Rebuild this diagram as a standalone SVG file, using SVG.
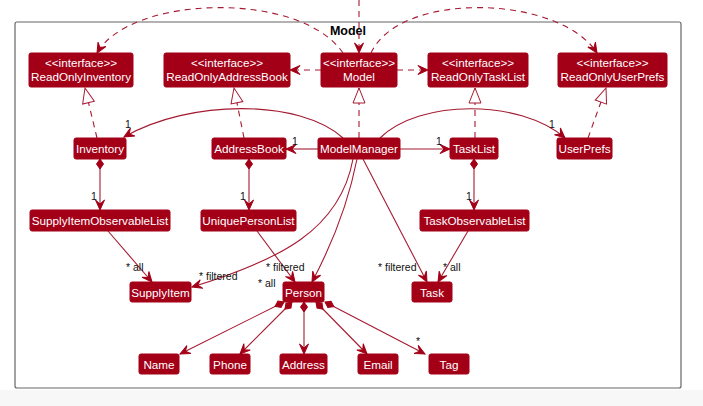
<svg xmlns="http://www.w3.org/2000/svg" width="703" height="406" viewBox="0 0 703 406">
<style>
.n rect{fill:#A30018;stroke:#A30018;stroke-width:1}
.n text{fill:#fff;font-family:"Liberation Sans",Arial,sans-serif;font-size:11.7px;text-anchor:middle}
.e path{fill:none;stroke:#A51A30;stroke-width:1.1}
.d{stroke-dasharray:6,5}
.a{marker-end:url(#arr)}
.r{marker-end:url(#tri)}
.c{marker-start:url(#dia);marker-end:url(#arr)}
.l{font-family:"Liberation Sans",Arial,sans-serif;font-size:10.5px;fill:#111}
</style>
<defs>
<marker id="arr" markerUnits="userSpaceOnUse" viewBox="-11 -6 12 12" refX="0" refY="0" markerWidth="12" markerHeight="12" orient="auto" overflow="visible">
<path d="M0,0 L-10,-4.5 L-6,0 L-10,4.5 Z" fill="#A30018" stroke="#A30018" stroke-width="1"/>
</marker>
<marker id="tri" markerUnits="userSpaceOnUse" viewBox="-16 -7 17 14" refX="0" refY="0" markerWidth="17" markerHeight="14" orient="auto" overflow="visible">
<path d="M0,0 L-15,-6 L-15,6 Z" fill="#fff" stroke="#A51A30" stroke-width="1"/>
</marker>
<marker id="dia" markerUnits="userSpaceOnUse" viewBox="-1 -5 13 10" refX="0" refY="0" markerWidth="13" markerHeight="10" orient="auto" overflow="visible">
<path d="M0,0 L5,-3.5 L10,0 L5,3.5 Z" fill="#A30018" stroke="#A30018" stroke-width="1"/>
</marker>
</defs>
<rect x="0" y="0" width="703" height="406" fill="#fff"/>
<rect x="0" y="390" width="703" height="16" fill="#f7f7f7"/>
<g id="frame">
<rect x="15" y="22" width="666" height="366" rx="2" fill="#fff" stroke="#666" stroke-width="1.2"/>
<text x="348" y="35" font-family="Liberation Sans,Arial,sans-serif" font-size="12.5" font-weight="bold" text-anchor="middle" fill="#000">Model</text>
</g>
<g class="e" id="connectors">
<path class="d a" d="M359,0 L359,53"/>
<path class="d a" d="M343,53 C300,-10 130,-5 97,53"/>
<path class="d a" d="M371,53 C400,-10 560,-5 597,53"/>
<path class="d a" d="M321,70 L290,70"/>
<path class="d a" d="M397,70 L428,70"/>
<path class="d r" d="M97,138 L85,88"/>
<path class="d r" d="M244,138 L234,88"/>
<path class="d r" d="M359,138 L359,88"/>
<path class="d r" d="M475,138 L475,88"/>
<path class="d r" d="M588,138 L606,88"/>
<path class="a" d="M343,138 C300,99 190,99 124,137"/>
<path class="a" d="M380,138 C420,99 520,99 565,138"/>
<path class="a" d="M318,149 L286,149"/>
<path class="a" d="M400,149 L450,149"/>
<path class="c" d="M100,159 L100,210"/>
<path class="c" d="M249,159 L249,210"/>
<path class="c" d="M474,159 L474,210"/>
<path class="a" d="M108,231 L152,282"/>
<path class="a" d="M257,231 L295,282"/>
<path class="a" d="M468,231 L438,282"/>
<path class="a" d="M353,159 C340,230 280,260 192,287"/>
<path class="a" d="M357,159 Q345,220 312,282"/>
<path class="a" d="M363,159 L427,282"/>
<path class="c" d="M284,302 L180,354"/>
<path class="c" d="M292,302 L240,354"/>
<path class="c" d="M304,302 L304,354"/>
<path class="c" d="M316,302 L367,354"/>
<path class="c" d="M325,302 L425,354"/>
</g>
<g id="labels">
<text class="l" x="125" y="128">1</text>
<text class="l" x="292" y="145">1</text>
<text class="l" x="436" y="145">1</text>
<text class="l" x="549" y="128">1</text>
<text class="l" x="91" y="200">1</text>
<text class="l" x="240" y="200">1</text>
<text class="l" x="466" y="200">1</text>
<text class="l" x="126" y="271">* all</text>
<text class="l" x="199" y="280">* filtered</text>
<text class="l" x="266" y="271">* filtered</text>
<text class="l" x="258" y="287">* all</text>
<text class="l" x="378" y="271">* filtered</text>
<text class="l" x="443" y="271">* all</text>
<text class="l" x="416" y="345">*</text>
</g>
<g class="n" id="ReadOnlyInventory"><rect x="29" y="53" width="104" height="34" rx="2"/><text x="81" y="67">&lt;&lt;interface&gt;&gt;</text><text x="81" y="81">ReadOnlyInventory</text></g>
<g class="n" id="ReadOnlyAddressBook"><rect x="164" y="53" width="126" height="34" rx="2"/><text x="227" y="67">&lt;&lt;interface&gt;&gt;</text><text x="227" y="81">ReadOnlyAddressBook</text></g>
<g class="n" id="Model"><rect x="321" y="53" width="76" height="34" rx="2"/><text x="359" y="67">&lt;&lt;interface&gt;&gt;</text><text x="359" y="81">Model</text></g>
<g class="n" id="ReadOnlyTaskList"><rect x="428" y="53" width="100" height="34" rx="2"/><text x="478" y="67">&lt;&lt;interface&gt;&gt;</text><text x="478" y="81">ReadOnlyTaskList</text></g>
<g class="n" id="ReadOnlyUserPrefs"><rect x="558" y="53" width="109" height="34" rx="2"/><text x="612.5" y="67">&lt;&lt;interface&gt;&gt;</text><text x="612.5" y="81">ReadOnlyUserPrefs</text></g>
<g class="n" id="Inventory"><rect x="74" y="138" width="52" height="21" rx="2"/><text x="100" y="153">Inventory</text></g>
<g class="n" id="AddressBook"><rect x="212" y="138" width="74" height="21" rx="2"/><text x="249" y="153">AddressBook</text></g>
<g class="n" id="ModelManager"><rect x="318" y="138" width="82" height="21" rx="2"/><text x="359" y="153">ModelManager</text></g>
<g class="n" id="TaskList"><rect x="450" y="138" width="48" height="21" rx="2"/><text x="474" y="153">TaskList</text></g>
<g class="n" id="UserPrefs"><rect x="557" y="138" width="55" height="21" rx="2"/><text x="584.5" y="153">UserPrefs</text></g>
<g class="n" id="SupplyItemObservableList"><rect x="30" y="210" width="140" height="21" rx="2"/><text x="100" y="225">SupplyItemObservableList</text></g>
<g class="n" id="UniquePersonList"><rect x="201" y="210" width="95" height="21" rx="2"/><text x="248.5" y="225">UniquePersonList</text></g>
<g class="n" id="TaskObservableList"><rect x="420" y="210" width="109" height="21" rx="2"/><text x="474.5" y="225">TaskObservableList</text></g>
<g class="n" id="SupplyItem"><rect x="130" y="282" width="61" height="20" rx="2"/><text x="160.5" y="297">SupplyItem</text></g>
<g class="n" id="Person"><rect x="283" y="282" width="41" height="20" rx="2"/><text x="303.5" y="297">Person</text></g>
<g class="n" id="Task"><rect x="412" y="282" width="40" height="20" rx="2"/><text x="432" y="297">Task</text></g>
<g class="n" id="Name"><rect x="139" y="354" width="40" height="20" rx="2"/><text x="159" y="369">Name</text></g>
<g class="n" id="Phone"><rect x="210" y="354" width="40" height="20" rx="2"/><text x="230" y="369">Phone</text></g>
<g class="n" id="Address"><rect x="280" y="354" width="47" height="20" rx="2"/><text x="303.5" y="369">Address</text></g>
<g class="n" id="Email"><rect x="358" y="354" width="40" height="20" rx="2"/><text x="378" y="369">Email</text></g>
<g class="n" id="Tag"><rect x="429" y="354" width="40" height="20" rx="2"/><text x="449" y="369">Tag</text></g>
</svg>
